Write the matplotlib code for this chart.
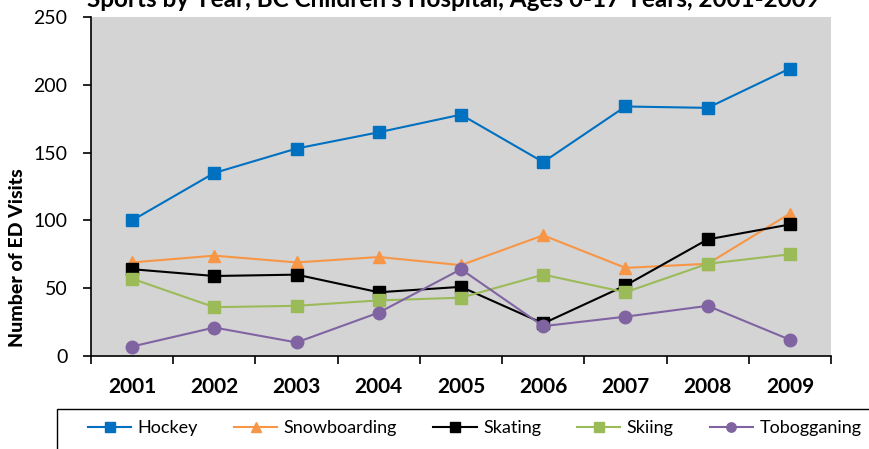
import matplotlib
matplotlib.use("Agg")
import matplotlib.pyplot as plt
import matplotlib.patches as patches
import numpy as np

# ED visits by sport and year
years = ["2001", "2002", "2003", "2004", "2005", "2006", "2007", "2008", "2009"]
hockey = [100, 135, 153, 165, 178, 143, 184, 183, 212]
snowboarding = [69, 74, 69, 73, 67, 89, 65, 68, 105]
skating = [64, 59, 60, 47, 51, 24, 52, 86, 97]
skiing = [57, 36, 37, 41, 43, 60, 47, 68, 75]
tobogganing = [7, 21, 10, 32, 64, 22, 29, 37, 12]

series = [
    ("Hockey", hockey, "#0070C0", "s"),
    ("Snowboarding", snowboarding, "#F79646", "^"),
    ("Skating", skating, "#000000", "s"),
    ("Skiing", skiing, "#9BBB59", "s"),
    ("Tobogganing", tobogganing, "#8064A2", "o"),
]

plt.rcParams['font.family'] = ['Lato', 'DejaVu Sans']

W, H = 870, 449
fig = plt.figure(figsize=(W / 100, H / 100), dpi=100)
ax = fig.add_axes([91 / W, 1 - 356 / H, (831 - 91) / W, (356 - 17) / H])
ax.set_facecolor("#d4d4d4")

x = np.arange(len(years))
for name, vals, color, marker in series:
    ax.plot(x, vals, color=color, marker=marker, markersize=9, lw=1.5,
            label=name)

ax.set_xlim(-0.5, len(years) - 0.5)
ax.set_ylim(0, 250)
ax.set_yticks(np.arange(0, 251, 50))

# tick marks between categories, labels centred on them
ax.set_xticks(np.arange(-0.5, len(years), 1.0))
ax.set_xticklabels([])
ax.set_xticks(x, minor=True)
ax.set_xticklabels(years, minor=True, fontsize=15, fontweight="bold")
ax.tick_params(axis="x", which="major", direction="out", length=6, width=1.2)
ax.tick_params(axis="x", which="minor", length=0, pad=15)
ax.tick_params(axis="y", direction="out", length=6, width=1.2, labelsize=14, pad=11)

for side in ("top", "right"):
    ax.spines[side].set_visible(False)
for side in ("left", "bottom"):
    ax.spines[side].set_linewidth(1.2)
    ax.spines[side].set_color("black")

fig.text(18 / W, 1 - 258 / H, "Number of ED Visits", rotation=90,
         ha="center", va="center", fontsize=14, fontweight="black")

fig.text(453 / W, 1 - 7 / H,
         "Sports by Year, BC Children's Hospital, Ages 0-17 Years, 2001-2009",
         ha="center", va="baseline", fontsize=17.5, fontweight="bold")

# legend box running off the bottom right
box = patches.Rectangle((57 / W, -0.1), 1.0, 0.1 + (449 - 409) / H,
                        transform=fig.transFigure, facecolor="white",
                        edgecolor="black", lw=1.0, zorder=0)
fig.patches.append(box)

fig.legend(loc="center left", bbox_to_anchor=(88 / W, 1 - 428 / H), ncol=5,
           frameon=False, fontsize=13, handlelength=2.4, handletextpad=0.35,
           columnspacing=2.0, borderpad=0, borderaxespad=0, markerscale=0.75)

fig.savefig("out.png", dpi=100)
